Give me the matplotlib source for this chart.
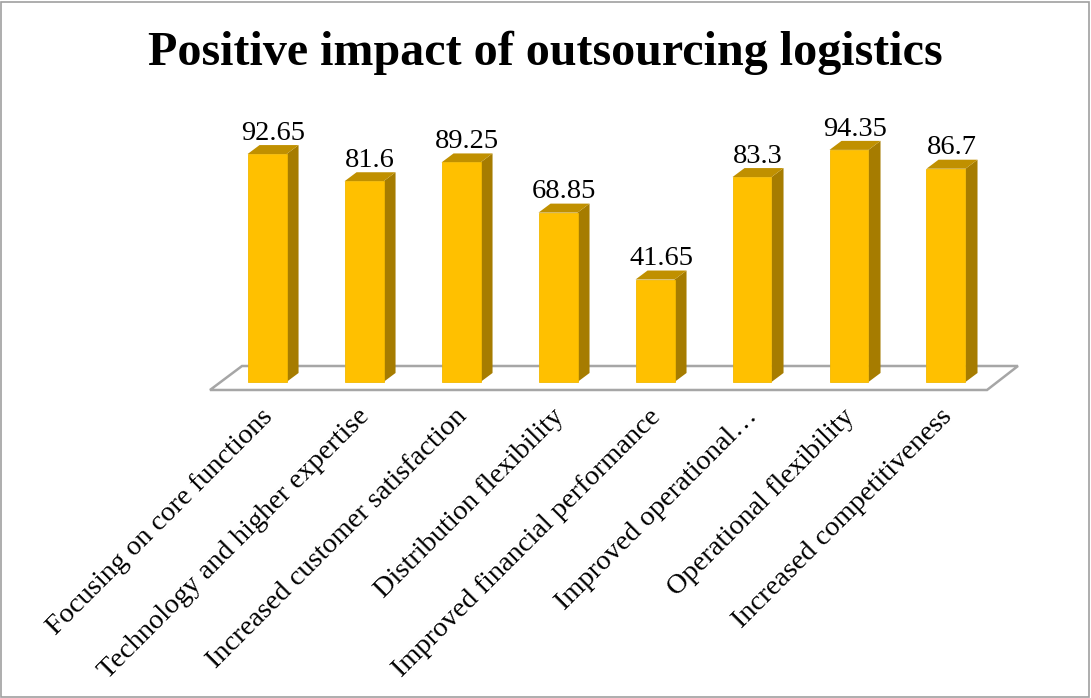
import matplotlib.pyplot as plt
from matplotlib.patches import Polygon, Rectangle

categories = ["Focusing on core functions", "Technology and higher expertise",
              "Increased customer satisfaction", "Distribution flexibility",
              "Improved financial performance", "Improved operational\u2026",
              "Operational flexibility", "Increased competitiveness"]
values = [92.65, 81.6, 89.25, 68.85, 41.65, 83.3, 94.35, 86.7]
value_labels = ["92.65", "81.6", "89.25", "68.85", "41.65", "83.3", "94.35", "86.7"]

plt.rcParams['font.family'] = ['Liberation Serif', 'DejaVu Serif']

fig = plt.figure(figsize=(10.91, 6.98), dpi=100)
ax = fig.add_axes([0, 0, 1, 1])
ax.set_xlim(-2.753, 8.495)
ax.set_ylim(-128.46, 155.28)
ax.axis("off")

front = "#FFC000"
side = "#A67C00"
top = "#C09000"
half = 0.201    # half width of bar front
dx = 0.124      # depth offset in x
dy = 3.66       # depth offset in y

# floor plane
floor = Polygon([(-0.588, -3.25), (7.423, -3.25), (7.742, 6.5), (-0.258, 6.5)],
                closed=True, facecolor="white", edgecolor="#A6A6A6", lw=1.8, zorder=1)
ax.add_patch(floor)

for i, v in enumerate(values):
    x0, x1 = i - half, i + half
    ax.add_patch(Polygon([(x1, 0), (x1 + dx, dy), (x1 + dx, v + dy), (x1, v)],
                         closed=True, facecolor=side, edgecolor="none", zorder=2))
    ax.add_patch(Polygon([(x0, v), (x1, v), (x1 + dx, v + dy), (x0 + dx, v + dy)],
                         closed=True, facecolor=top, edgecolor="none", zorder=2))
    ax.add_patch(Rectangle((x0, 0), 2 * half, v, facecolor=front,
                           edgecolor="#F2B800", lw=0.6, zorder=3))
    ax.text(i + dx / 2, v + dy - 0.3, value_labels[i], ha="center", va="bottom",
            fontsize=20.5, color="black", zorder=4)
    ax.text(i - 0.07, -9.0, categories[i], rotation=45, ha="right", va="top",
            rotation_mode="anchor", fontsize=20.4, color="black")

fig.text(0.5, 0.925, "Positive impact of outsourcing logistics", ha="center", va="center",
         fontsize=34.6, fontweight="bold")

# outer border
fig.add_artist(Rectangle((0.001, 0.001), 0.997, 0.996, transform=fig.transFigure,
                         fill=False, edgecolor="#A0A0A0", lw=1.2))

fig.savefig("out.png", dpi=100)
